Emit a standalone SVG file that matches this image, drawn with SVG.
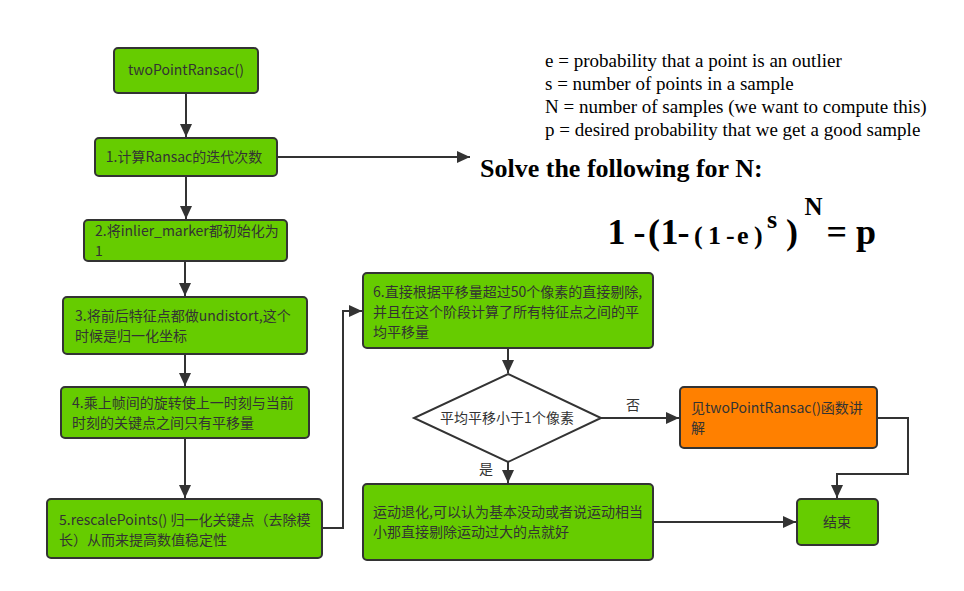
<svg xmlns="http://www.w3.org/2000/svg" width="964" height="591" viewBox="0 0 964 591">
<style>
.n{fill:#66cc00;stroke:#333;stroke-width:2}
.o{fill:#ff8000;stroke:#333;stroke-width:2}
.d{fill:#fff;stroke:#333;stroke-width:2}
.t{font-family:"Noto Sans CJK SC","Noto Sans",sans-serif;font-size:14px;fill:#333}
.c{text-anchor:middle}
.e{font-family:"Liberation Serif","Times New Roman",Tinos,serif;font-size:19px;font-weight:normal;fill:#000}
.b{font-family:"Liberation Serif","Times New Roman",Tinos,serif;font-weight:bold;fill:#000}
.l{fill:none;stroke:#333;stroke-width:2}
</style>
<defs>
<marker id="a" markerUnits="userSpaceOnUse" markerWidth="14" markerHeight="12" refX="13" refY="6" orient="auto">
<path d="M0,0 L13,6 L0,12 z" fill="#333"/>
</marker>
</defs>
<rect width="964" height="591" fill="#fff"/>
<g id="connectors">
<path class="l" d="M186,93 V137" marker-end="url(#a)"/>
<path class="l" d="M186,176 V219" marker-end="url(#a)"/>
<path class="l" d="M185,261 V296" marker-end="url(#a)"/>
<path class="l" d="M185,354 V386" marker-end="url(#a)"/>
<path class="l" d="M185,438 V498" marker-end="url(#a)"/>
<path class="l" d="M322,528 H343 V311 H362" marker-end="url(#a)"/>
<path class="l" d="M277,157 H470" marker-end="url(#a)"/>
<path class="l" d="M508,348 V373" marker-end="url(#a)"/>
<path class="l" d="M601,418 H679" marker-end="url(#a)"/>
<path class="l" d="M508,462 V483" marker-end="url(#a)"/>
<path class="l" d="M653,522 H796" marker-end="url(#a)"/>
<path class="l" d="M877,418 H908 V474 H837 V498" marker-end="url(#a)"/>
</g>
<g id="start">
<rect class="n" x="114" y="48" width="144" height="45" rx="4"/>
<text class="t c" x="186" y="75">twoPointRansac()</text>
</g>
<g id="step1">
<rect class="n" x="95" y="138" width="182" height="38" rx="4"/>
<text class="t c" x="184" y="162">1.计算Ransac的迭代次数</text>
</g>
<g id="step2">
<rect class="n" x="84" y="220" width="203" height="41" rx="4"/>
<text class="t" x="95" y="236">2.将inlier_marker都初始化为</text>
<text class="t" x="95" y="256">1</text>
</g>
<g id="step3">
<rect class="n" x="63" y="297" width="244" height="57" rx="4"/>
<text class="t" x="75" y="321">3.将前后特征点都做undistort,这个</text>
<text class="t" x="75" y="341">时候是归一化坐标</text>
</g>
<g id="step4">
<rect class="n" x="61" y="387" width="248" height="51" rx="4"/>
<text class="t" x="72" y="408">4.乘上帧间的旋转使上一时刻与当前</text>
<text class="t" x="72" y="428">时刻的关键点之间只有平移量</text>
</g>
<g id="step5">
<rect class="n" x="47" y="499" width="275" height="59" rx="4"/>
<text class="t" x="59" y="525">5.rescalePoints() 归一化关键点（去除模</text>
<text class="t" x="59" y="545">长）从而来提高数值稳定性</text>
</g>
<g id="step6">
<rect class="n" x="363" y="273" width="290" height="75" rx="4"/>
<text class="t" x="373" y="297">6.直接根据平移量超过50个像素的直接剔除,</text>
<text class="t" x="373" y="317">并且在这个阶段计算了所有特征点之间的平</text>
<text class="t" x="373" y="337">均平移量</text>
</g>
<g id="decision">
<path class="d" d="M508,374 L601,418 L508,462 L414,418 z"/>
<text class="t c" x="507" y="423">平均平移小于1个像素</text>
<text class="t" x="626" y="410">否</text>
<text class="t" x="479" y="474">是</text>
</g>
<g id="degenerate">
<rect class="n" x="363" y="484" width="290" height="76" rx="4"/>
<text class="t" x="373" y="517">运动退化,可以认为基本没动或者说运动相当</text>
<text class="t" x="373" y="537">小那直接剔除运动过大的点就好</text>
</g>
<g id="see">
<rect class="o" x="680" y="387" width="197" height="61" rx="4"/>
<text class="t" x="691" y="413">见twoPointRansac()函数讲</text>
<text class="t" x="691" y="433">解</text>
</g>
<g id="end">
<rect class="n" x="797" y="499" width="81" height="46" rx="4"/>
<text class="t c" x="837" y="527">结束</text>
</g>
<g id="notes">
<text class="e" x="545" y="67">e = probability that a point is an outlier</text>
<text class="e" x="545" y="90">s = number of points in a sample</text>
<text class="e" x="545" y="113">N = number of samples (we want to compute this)</text>
<text class="e" x="545" y="136">p = desired probability that we get a good sample</text>
<text class="b" x="480" y="177" font-size="26">Solve the following for N:</text>
<text class="b" x="607.5 633.6 648 660.5 677.6" y="244" font-size="36">1-(1-</text>
<text class="b" x="694 708 726 737 754" y="244" font-size="26">(1-e)</text>
<text class="b" x="767" y="228" font-size="26">s</text>
<text class="b" x="786" y="244" font-size="36">)</text>
<text class="b" x="804.5" y="215" font-size="25">N</text>
<text class="b" x="826.5 856" y="244" font-size="36">=p</text>
</g>
</svg>
